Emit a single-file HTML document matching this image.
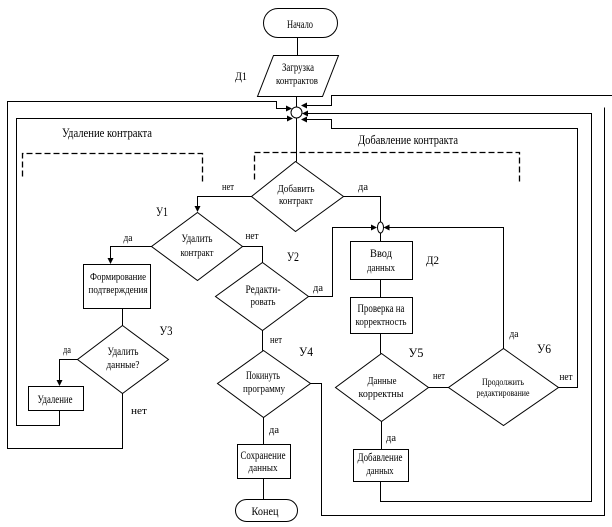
<!DOCTYPE html>
<html><head><meta charset="utf-8"><style>
html,body{margin:0;padding:0;background:#fff;}
svg{display:block;}
text{font-family:"Liberation Serif","DejaVu Serif",serif;fill:#000;}
</style></head><body>
<svg width="612" height="527" viewBox="0 0 612 527" xmlns="http://www.w3.org/2000/svg">
<g transform="translate(0.5,0.5)" fill="none" stroke="#000" stroke-width="1">
<!-- terminals -->
<rect x="263" y="8" width="74" height="29" rx="14.5"/>
<rect x="235" y="499" width="62" height="22" rx="11"/>
<!-- parallelogram -->
<polygon points="273,55 338,55 322,96 257,96"/>
<!-- main circle -->
<circle cx="296" cy="112" r="5.5"/>
<!-- small circle -->
<ellipse cx="380" cy="227" rx="3" ry="5.5"/>
<!-- diamonds -->
<polygon points="295,161 343,196 295,231 251,196"/>
<polygon points="197,212 242,246 197,280 151,246"/>
<polygon points="262,262 308,296 262,330 215,296"/>
<polygon points="263,350 310,383 263,417 217,383"/>
<polygon points="122,325 168,359 122,393 77,359"/>
<polygon points="381,353 428,387 381,421 335,387"/>
<polygon points="503,348 558,387 503,425 448,387"/>
<!-- boxes -->
<rect x="83" y="264" width="67" height="44"/>
<rect x="28" y="386" width="55" height="24"/>
<rect x="237" y="444" width="53" height="34"/>
<rect x="350" y="241" width="62" height="38"/>
<rect x="350" y="297" width="62" height="36"/>
<rect x="353" y="449" width="55" height="32"/>
<!-- connectors -->
<path d="M297,37 V55"/>
<path d="M296,96 V106"/>
<path d="M296,117.5 V161"/>
<path d="M122,393 V448 H7 V101 H276 V108 H288"/>
<path d="M59,410 V425 H16 V118 H289"/>
<path d="M612,95 H331 V105 H304"/>
<path d="M380,481 V501 H591 V113 H305"/>
<path d="M558,387 H577 V128 H331 V119 H304"/>
<path d="M310,383 H321 V515 H604 V107"/>
<path d="M251,196 H197 V207"/>
<path d="M343,196 H380 V221.5"/>
<path d="M308,296 H332 V227 H372"/>
<path d="M503,348 V227 H388"/>
<path d="M380,232.5 V241"/>
<path d="M380,279 V297"/>
<path d="M380,333 V353"/>
<path d="M428,387 H448"/>
<path d="M381,421 V449"/>
<path d="M242,246 H262 V262"/>
<path d="M262,330 V350"/>
<path d="M263,417 V444"/>
<path d="M263,478 V499"/>
<path d="M151,246 H110 V259"/>
<path d="M122,308 V325"/>
<path d="M77,359 H59 V381"/>
<!-- dashed frames -->
<path d="M22,176 V153 H202 V183" stroke-dasharray="6,3" stroke-width="1.3"/>
<path d="M254,179 V152 H519 V183" stroke-dasharray="6,3" stroke-width="1.3"/>
</g>
<!-- arrowheads -->
<g fill="#000" stroke="none">
<polygon points="292,108.5 286,105.5 286,111.5"/>
<polygon points="293,118.5 287,115.5 287,121.5"/>
<polygon points="301,105.5 307,102.5 307,108.5"/>
<polygon points="302,113.5 308,110.5 308,116.5"/>
<polygon points="301,119.5 307,116.5 307,122.5"/>
<polygon points="197.5,212 194.5,206 200.5,206"/>
<polygon points="377,227.5 371,224.5 371,230.5"/>
<polygon points="383.5,227.5 389.5,224.5 389.5,230.5"/>
<polygon points="110.5,264 107.5,258 113.5,258"/>
<polygon points="59.5,386 56.5,380 62.5,380"/>
</g>
<!-- text -->
<g text-anchor="middle">
<text x="300" y="28" font-size="12" textLength="26" lengthAdjust="spacingAndGlyphs">Начало</text>
<text x="298" y="71" font-size="12" textLength="32" lengthAdjust="spacingAndGlyphs">Загрузка</text>
<text x="297" y="84" font-size="11" textLength="42" lengthAdjust="spacingAndGlyphs">контрактов</text>
<text x="107" y="137" font-size="13" textLength="90" lengthAdjust="spacingAndGlyphs">Удаление контракта</text>
<text x="408" y="144" font-size="13" textLength="100" lengthAdjust="spacingAndGlyphs">Добавление контракта</text>
<text x="296" y="192" font-size="11" textLength="37" lengthAdjust="spacingAndGlyphs">Добавить</text>
<text x="296" y="204" font-size="11" textLength="34" lengthAdjust="spacingAndGlyphs">контракт</text>
<text x="228" y="190" font-size="10" textLength="12" lengthAdjust="spacingAndGlyphs">нет</text>
<text x="363" y="190" font-size="10" textLength="10" lengthAdjust="spacingAndGlyphs">да</text>
<text x="162" y="216" font-size="13" textLength="12" lengthAdjust="spacingAndGlyphs">У1</text>
<text x="197" y="242" font-size="12" textLength="31" lengthAdjust="spacingAndGlyphs">Удалить</text>
<text x="197" y="256" font-size="11" textLength="33" lengthAdjust="spacingAndGlyphs">контракт</text>
<text x="128" y="241" font-size="10" textLength="9" lengthAdjust="spacingAndGlyphs">да</text>
<text x="252" y="239" font-size="10" textLength="13" lengthAdjust="spacingAndGlyphs">нет</text>
<text x="118" y="280" font-size="11" textLength="56" lengthAdjust="spacingAndGlyphs">Формирование</text>
<text x="118" y="293" font-size="11" textLength="59" lengthAdjust="spacingAndGlyphs">подтверждения</text>
<text x="293" y="261" font-size="13" textLength="12" lengthAdjust="spacingAndGlyphs">У2</text>
<text x="263" y="293" font-size="12" textLength="35" lengthAdjust="spacingAndGlyphs">Редакти-</text>
<text x="263" y="305" font-size="11" textLength="25" lengthAdjust="spacingAndGlyphs">ровать</text>
<text x="318" y="291" font-size="10" textLength="10" lengthAdjust="spacingAndGlyphs">да</text>
<text x="276" y="343" font-size="10" textLength="12" lengthAdjust="spacingAndGlyphs">нет</text>
<text x="306" y="356" font-size="13" textLength="14" lengthAdjust="spacingAndGlyphs">У4</text>
<text x="263" y="379" font-size="12" textLength="34" lengthAdjust="spacingAndGlyphs">Покинуть</text>
<text x="264" y="392" font-size="11" textLength="42" lengthAdjust="spacingAndGlyphs">программу</text>
<text x="166" y="335" font-size="13" textLength="13" lengthAdjust="spacingAndGlyphs">У3</text>
<text x="67" y="353" font-size="10" textLength="8" lengthAdjust="spacingAndGlyphs">да</text>
<text x="123" y="355" font-size="12" textLength="31" lengthAdjust="spacingAndGlyphs">Удалить</text>
<text x="123" y="368" font-size="11" textLength="33" lengthAdjust="spacingAndGlyphs">данные?</text>
<text x="55" y="403" font-size="12" textLength="35" lengthAdjust="spacingAndGlyphs">Удаление</text>
<text x="139" y="414" font-size="10" textLength="16" lengthAdjust="spacingAndGlyphs">нет</text>
<text x="274" y="433" font-size="10" textLength="10" lengthAdjust="spacingAndGlyphs">да</text>
<text x="263" y="459" font-size="12" textLength="45" lengthAdjust="spacingAndGlyphs">Сохранение</text>
<text x="263" y="471" font-size="11" textLength="29" lengthAdjust="spacingAndGlyphs">данных</text>
<text x="265" y="515" font-size="12" textLength="27" lengthAdjust="spacingAndGlyphs">Конец</text>
<text x="381" y="257" font-size="12" textLength="22" lengthAdjust="spacingAndGlyphs">Ввод</text>
<text x="381" y="271" font-size="11" textLength="28" lengthAdjust="spacingAndGlyphs">данных</text>
<text x="381" y="312" font-size="12" textLength="47" lengthAdjust="spacingAndGlyphs">Проверка на</text>
<text x="381" y="325" font-size="11" textLength="51" lengthAdjust="spacingAndGlyphs">корректность</text>
<text x="416" y="357" font-size="13" textLength="15" lengthAdjust="spacingAndGlyphs">У5</text>
<text x="544" y="353" font-size="13" textLength="14" lengthAdjust="spacingAndGlyphs">У6</text>
<text x="514" y="337" font-size="10" textLength="9" lengthAdjust="spacingAndGlyphs">да</text>
<text x="382" y="384" font-size="11" textLength="29" lengthAdjust="spacingAndGlyphs">Данные</text>
<text x="381" y="397" font-size="11" textLength="45" lengthAdjust="spacingAndGlyphs">корректны</text>
<text x="439" y="379" font-size="10" textLength="12" lengthAdjust="spacingAndGlyphs">нет</text>
<text x="503" y="385" font-size="9" textLength="42" lengthAdjust="spacingAndGlyphs">Продолжить</text>
<text x="503" y="396" font-size="9" textLength="53" lengthAdjust="spacingAndGlyphs">редактирование</text>
<text x="566" y="380" font-size="10" textLength="13" lengthAdjust="spacingAndGlyphs">нет</text>
<text x="391" y="441" font-size="10" textLength="10" lengthAdjust="spacingAndGlyphs">да</text>
<text x="380" y="461" font-size="12" textLength="45" lengthAdjust="spacingAndGlyphs">Добавление</text>
<text x="380" y="474" font-size="11" textLength="27" lengthAdjust="spacingAndGlyphs">данных</text>
</g>
<text x="235" y="80" font-size="12" textLength="12" lengthAdjust="spacingAndGlyphs">Д1</text>
<text x="426" y="264" font-size="12" textLength="13" lengthAdjust="spacingAndGlyphs">Д2</text>
</svg>
</body></html>
